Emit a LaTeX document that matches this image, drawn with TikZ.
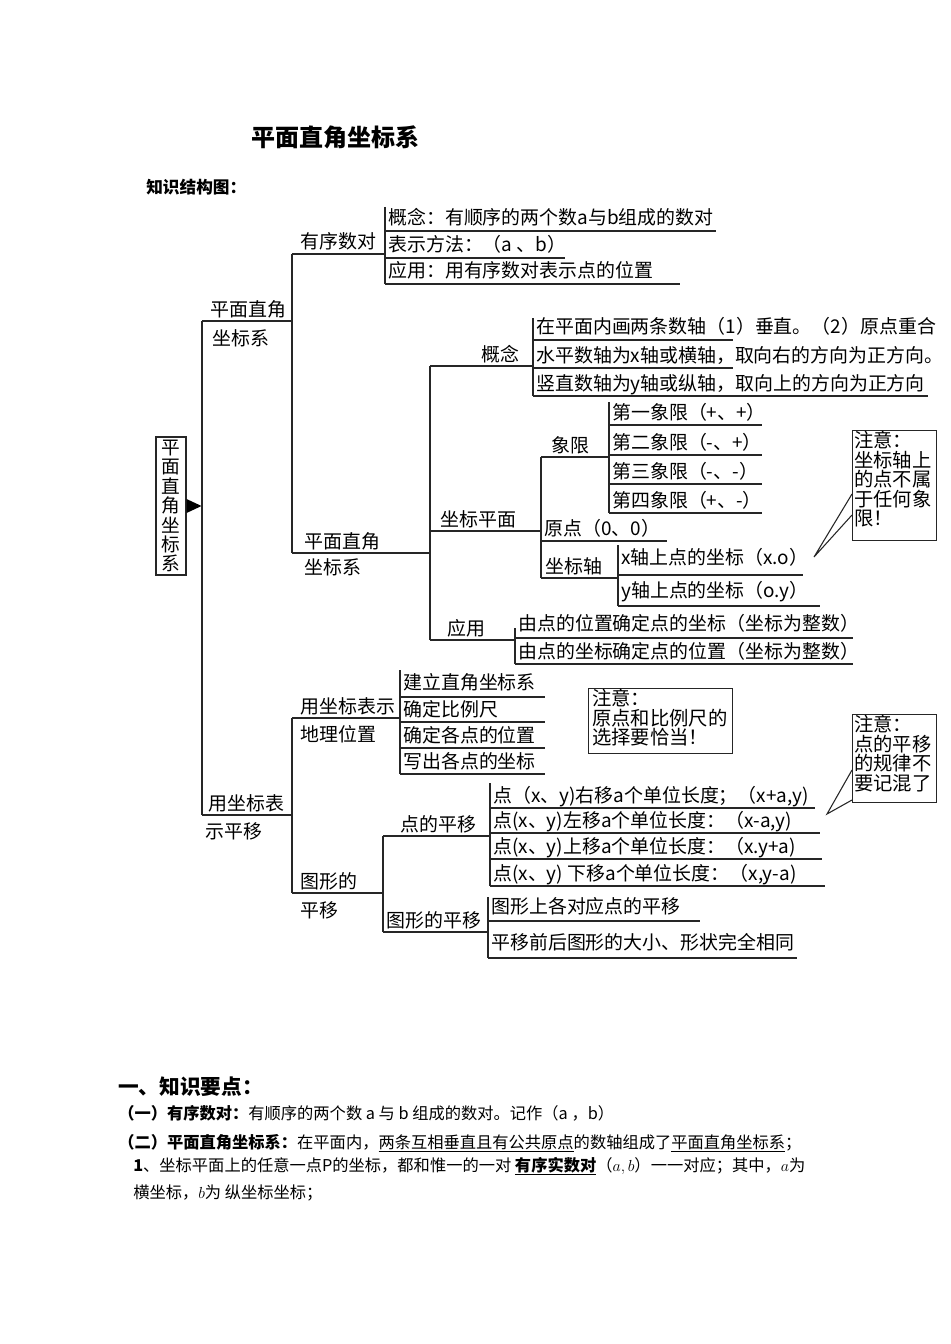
\documentclass[tikz,border=0pt]{standalone}
\usepackage{fontspec}
\setmainfont{Liberation Serif}
\newfontfamily\cjk{Noto Sans CJK SC}
\usetikzlibrary{calc}
% leaf: [baseline offset]{name}{x0}{y of underline}{x end}{text}
\newcommand\leafline[6][6]{%
  \coordinate (#2s) at (#3,#4);
  \coordinate (#2e) at (#5,#4);
  \draw[br] (#2s) -- (#2e);
  \node[lbl] (#2) at ($(#2s)+(3,-#1)$) {#6};}
\begin{document}
\begin{tikzpicture}[x=0.75pt,y=-0.75pt]
\tikzset{
  br/.style={line width=0.8pt, draw=black!85},
  lbl/.style={inner sep=0pt, anchor=base west, font=\cjk\fontsize{14.2}{14.2}\selectfont},
  notebox/.style={draw=black!85, line width=0.8pt, inner sep=0pt, anchor=north west},
  notetxt/.style={inner sep=0pt, anchor=north west, align=left, font=\cjk\fontsize{14.5}{14.6}\selectfont},
  body/.style={inner sep=0pt, anchor=base west, font=\cjk\fontsize{12.2}{12.2}\selectfont}
}
\useasboundingbox (0,0) rectangle (950,1344);
\fill[white] (0,0) rectangle (950,1344);

% headings
\node[inner sep=0pt, font=\cjk\bfseries\fontsize{18}{18}\selectfont] (title) at (335,137) {平面直角坐标系};
\node[inner sep=0pt, anchor=west, font=\cjk\bfseries\fontsize{12.5}{12.5}\selectfont] (sub) at (146,187) {知识结构图：};

% root
\node[draw=black!85, line width=0.8pt, minimum width=22.5pt, minimum height=103.5pt, inner sep=0pt, align=center,
      font=\cjk\fontsize{14}{14.6}\selectfont] (root) at (171,506) {平\\面\\直\\角\\坐\\标\\系};
\fill (root.east) ++(0,-7) -- ++(15,7) -- ++(-15,7) -- cycle;

% trunk
\coordinate (A0) at (202,321);
\coordinate (B0) at (202,815);
\draw[br] (A0) -- (B0);

% level 1 : A
\coordinate (A1) at (292,321);
\draw[br] (A0) -- (A1);
\node[lbl] (Aup) at (210,316) {平面直角};
\node[lbl] (Adn) at (212,345) {坐标系};
\coordinate (P1) at (292,254);
\coordinate (P2) at (292,553);
\draw[br] (P1) -- (P2);

% 有序数对
\coordinate (Q1) at (385,254);
\draw[br] (P1) -- (Q1);
\node[lbl] (yxsd) at (300,249) {有序数对};
\coordinate (Qt) at (385,207);
\coordinate (Qb) at (385,284);
\draw[br] (Qt) -- (Qb);
\leafline{la}{385}{231}{716}{概念：有顺序的两个数a与b组成的数对}
\leafline{lb}{385}{258}{565}{表示方法：（a 、b）}
\leafline{lc}{385}{284}{680}{应用：用有序数对表示点的位置}

% 平面直角坐标系 (level 2)
\coordinate (R1) at (430,553);
\draw[br] (P2) -- (R1);
\node[lbl] (Rup) at (304,548) {平面直角};
\node[lbl] (Rdn) at (304,574) {坐标系};
\coordinate (Rt) at (430,366);
\coordinate (Rb) at (430,640);
\draw[br] (Rt) -- (Rb);

% 概念
\coordinate (G1) at (533,366);
\draw[br] (Rt) -- (G1);
\node[lbl] (gn) at (481,361) {概念};
\coordinate (Gt) at (533,318);
\coordinate (Gb) at (533,396);
\draw[br] (Gt) -- (Gb);
\leafline{ga}{533}{340}{733}{在平面内画两条数轴（1）垂直。（2）原点重合}
\leafline{gb}{533}{368}{733}{水平数轴为x轴或横轴，取向右的方向为正方向。}
\leafline{gc}{533}{396}{928}{竖直数轴为y轴或纵轴，取向上的方向为正方向}

% 坐标平面
\coordinate (Z0) at (430,531);
\coordinate (Z1) at (541,531);
\draw[br] (Z0) -- (Z1);
\node[lbl] (zbpm) at (440,526) {坐标平面};
\coordinate (Zt) at (541,457);
\coordinate (Zb) at (541,578);
\draw[br] (Zt) -- (Zb);

% 象限
\coordinate (X1) at (609,457);
\draw[br] (Zt) -- (X1);
\node[lbl] (xx) at (551,452) {象限};
\coordinate (Xt) at (609,402);
\coordinate (Xb) at (609,513);
\draw[br] (Xt) -- (Xb);
\leafline{qa}{609}{425}{762}{第一象限（+、+）}
\leafline{qb}{609}{455}{762}{第二象限（-、+）}
\leafline{qc}{609}{484}{762}{第三象限（-、-）}
\leafline{qd}{609}{513}{762}{第四象限（+、-）}

% 原点
\leafline{yd}{541}{541}{667}{原点（0、0）}

% 坐标轴
\coordinate (W1) at (618,578);
\draw[br] (Zb) -- (W1);
\node[lbl] (zbz) at (545,573) {坐标轴};
\coordinate (Wt) at (618,545);
\coordinate (Wb) at (618,606);
\draw[br] (Wt) -- (Wb);
\leafline[11]{wa}{618}{575}{803}{x轴上点的坐标（x.o）}
\leafline[9]{wb}{618}{606}{820}{y轴上点的坐标（o.y）}

% note 1
\node[notebox, minimum width=63pt, minimum height=82.5pt] (n1) at (852,430) {};
\node[notetxt] (n1t) at ($(n1.north west)+(2,1)$) {注意：\\坐标轴上\\的点不属\\于任何象\\限！};
\coordinate (c1) at (814,557);
\draw[br] ($(n1.north west)+(0,64)$) -- (c1) -- ($(n1.north west)+(0,85)$);

% 应用
\coordinate (Y1) at (515,640);
\draw[br] (Rb) -- (Y1);
\node[lbl] (yy) at (447,635) {应用};
\coordinate (Yt) at (515,628);
\coordinate (Yb) at (515,664);
\draw[br] (Yt) -- (Yb);
\leafline[8]{ya}{515}{638}{853}{由点的位置确定点的坐标（坐标为整数）}
\leafline{yb}{515}{664}{853}{由点的坐标确定点的位置（坐标为整数）}

% level 1 : B
\coordinate (B1) at (292,815);
\draw[br] (B0) -- (B1);
\node[lbl] (Bup) at (208,810) {用坐标表};
\node[lbl] (Bdn) at (205,838) {示平移};
\coordinate (S1) at (292,718);
\coordinate (S2) at (292,893);
\draw[br] (S1) -- (S2);

% 用坐标表示地理位置
\coordinate (D1) at (400,718);
\draw[br] (S1) -- (D1);
\node[lbl] (Dup) at (300,713) {用坐标表示};
\node[lbl] (Ddn) at (300,741) {地理位置};
\coordinate (Dt) at (400,670);
\coordinate (Db) at (400,774);
\draw[br] (Dt) -- (Db);
\leafline[8]{da}{400}{697}{545}{建立直角坐标系}
\leafline{db}{400}{722}{545}{确定比例尺}
\leafline{dc}{400}{748}{545}{确定各点的位置}
\leafline{dd}{400}{774}{545}{写出各点的坐标}

% note 2
\node[notebox, minimum width=108pt, minimum height=48.75pt] (n2) at (588,688) {};
\node[notetxt] (n2t) at ($(n2.north west)+(4,1)$) {注意：\\原点和比例尺的\\选择要恰当！};

% 图形的平移 (level 2)
\coordinate (T1) at (383,893);
\draw[br] (S2) -- (T1);
\node[lbl] (Tup) at (300,888) {图形的};
\node[lbl] (Tdn) at (300,917) {平移};
\coordinate (Tt) at (383,836);
\coordinate (Tb) at (383,932);
\draw[br] (Tt) -- (Tb);

% 点的平移
\coordinate (M1) at (490,836);
\draw[br] (Tt) -- (M1);
\node[lbl] (dpy) at (400,831) {点的平移};
\coordinate (Mt) at (490,783);
\coordinate (Mb) at (490,886);
\draw[br] (Mt) -- (Mb);
\leafline{ma}{490}{808}{815}{点（x、y)右移a个单位长度；（x+a,y)}
\leafline{mb}{490}{833}{820}{点(x、y)左移a个单位长度：（x-a,y)}
\leafline{mc}{490}{859}{822}{点(x、y)上移a个单位长度：（x.y+a)}
\leafline{md}{490}{886}{825}{点(x、y) 下移a个单位长度：（x,y-a)}

% 图形的平移 (level 3)
\coordinate (F1) at (488,932);
\draw[br] (Tb) -- (F1);
\node[lbl] (txpy) at (386,927) {图形的平移};
\coordinate (Ft) at (488,897);
\coordinate (Fb) at (488,958);
\draw[br] (Ft) -- (Fb);
\leafline[8]{fa}{488}{921}{700}{图形上各对应点的平移}
\leafline[9]{fb}{488}{958}{797}{平移前后图形的大小、形状完全相同}

% note 3
\node[notebox, minimum width=63pt, minimum height=66pt] (n3) at (852,714) {};
\node[notetxt] (n3t) at ($(n3.north west)+(2,1)$) {注意：\\点的平移\\的规律不\\要记混了};
\coordinate (c3) at (827,814);
\draw[br] ($(n3.north west)+(0,56)$) -- (c3) -- ($(n3.north west)+(0,86)$);

% bottom text
\node[inner sep=0pt, anchor=base west, font=\cjk\bfseries\fontsize{15.5}{15.5}\selectfont] (h1) at (118,1094) {一、知识要点：};
\node[body] (p1) at (118,1119) {{\bfseries （一）有序数对：}有顺序的两个数 a 与 b 组成的数对。记作（a ，b）};
\node[body] (p2) at (118,1148) {{\bfseries （二）平面直角坐标系：}在平面内，\underline{两条互相垂直且}\underline{有公共原点}的数轴组成了\underline{平面直角坐标系}；};
\node[body] (p3) at (133,1171) {{\bfseries 1}、坐标平面上的任意一点P的坐标，都和惟一的一对 \underline{\bfseries 有序实数对}（$a,b$）一一对应；其中，$a$为};
\node[body] (p4) at (133,1198) {横坐标，$b$为 纵坐标坐标；};
\end{tikzpicture}
\end{document}
